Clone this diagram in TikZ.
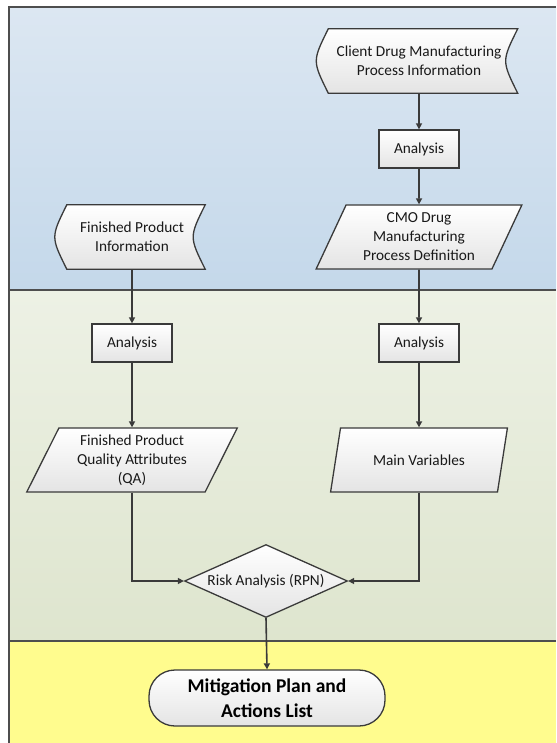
\documentclass[tikz,border=0pt]{standalone}
\usepackage{fontspec}
\setmainfont{Carlito}
\usetikzlibrary{arrows.meta,shapes.geometric}

\definecolor{edgegray}{HTML}{3A3A3A}
\definecolor{bandblueTop}{HTML}{DCE7F2}
\definecolor{bandblueBot}{HTML}{C4D8EA}
\definecolor{bandgreenTop}{HTML}{EDF1E5}
\definecolor{bandgreenBot}{HTML}{DEE5CE}
\definecolor{bandyellow}{HTML}{FFFC8E}
\definecolor{boxbot}{HTML}{E4E4E4}

\pgfdeclarelayer{bg}
\pgfsetlayers{bg,main}

\tikzset{
  txt/.style={font=\fontsize{15.3}{19}\selectfont, align=center, text=black!90},
  fillgrad/.style={top color=white, bottom color=boxbot},
  stepbox/.style={txt, draw=edgegray, line width=1.3pt, fillgrad,
    minimum width=80pt, minimum height=38pt, inner sep=2pt},
  dataio/.style={txt, trapezium, trapezium left angle=65, trapezium right angle=115,
    trapezium stretches=true, draw=edgegray, line width=1.3pt, fillgrad,
    minimum height=64pt, inner sep=1pt},
  stored/.style={txt, rectangle, minimum height=64pt, inner sep=1pt},
  decision/.style={txt, diamond, draw=edgegray, line width=1.3pt, fillgrad,
    minimum width=163pt, minimum height=73pt, inner sep=0pt, aspect=2.2},
  terminal/.style={font=\bfseries\fontsize{19.5}{25}\selectfont, align=center,
    draw=edgegray, line width=1.3pt, fillgrad, rounded corners=26pt,
    minimum width=236pt, minimum height=56pt},
  flow/.style={edgegray, line width=1.6pt, -{Triangle[length=6pt,width=6pt]}},
  divider/.style={draw=edgegray!90, line width=2pt}
}

\begin{document}
\begin{tikzpicture}[x=1pt, y=-1pt]

\useasboundingbox (0,0) rectangle (556,743);

% Swimlane bands
\begin{pgfonlayer}{bg}
\fill[white] (0,0) rectangle (556,743);
\shade[top color=bandblueTop, bottom color=bandblueBot] (9,7) rectangle (556,290);
\shade[top color=bandgreenTop, bottom color=bandgreenBot] (9,290) rectangle (556,641);
\fill[bandyellow] (9,641) rectangle (556,743);
\draw[divider] (9,743) -- (9,7) -- (556,7);
\draw[divider] (9,290) -- (556,290);
\draw[divider] (9,641) -- (556,641);
\end{pgfonlayer}

% Nodes
\node[stored, minimum width=197pt] (client) at (419,61)
  {Client Drug Manufacturing\\Process Information};
\node[stepbox] (anaclient) at (419,149) {Analysis};
\node[dataio, minimum width=206pt] (cmo) at (419,237)
  {CMO Drug\\Manufacturing\\Process Definition};
\node[stored, minimum width=146pt] (fpinfo) at (132,237)
  {Finished Product\\Information};
\node[stepbox] (anaprod) at (132,343) {Analysis};
\node[stepbox] (anacmo) at (419,343) {Analysis};
\node[dataio, minimum width=211pt] (qa) at (132,460)
  {Finished Product\\Quality Attributes\\(QA)};
\node[dataio, minimum width=177pt] (mainvar) at (419,460) {Main Variables};
\node[decision] (risk) at (266,581) {Risk Analysis (RPN)};
\node[terminal] (plan) at (267,698) {Mitigation Plan and\\Actions List};

% Stored data outlines
\begin{pgfonlayer}{bg}
\foreach \n in {client,fpinfo}{
  \draw[edgegray, line width=1.3pt, fillgrad]
    ([xshift=8pt]\n.north west) -- (\n.north east)
    .. controls ([xshift=-16pt]\n.east) .. (\n.south east)
    -- ([xshift=8pt]\n.south west)
    .. controls ([xshift=-8pt]\n.west) .. ([xshift=8pt]\n.north west) -- cycle;
}
\end{pgfonlayer}

% Connectors
\draw[flow] (client.south) -- (anaclient.north);
\draw[flow] (anaclient.south) -- (cmo.south |- cmo.north);
\draw[flow] (cmo.south) -- (anacmo.north);
\draw[flow] (anacmo.south) -- (mainvar.south |- mainvar.north);
\draw[flow] (fpinfo.south) -- (anaprod.north);
\draw[flow] (anaprod.south) -- (qa.south |- qa.north);
\draw[flow] (qa.south) |- (risk.west);
\draw[flow] (mainvar.south) |- (risk.east);
\draw[flow] (risk.south) -- (plan.north);

\end{tikzpicture}
\end{document}
